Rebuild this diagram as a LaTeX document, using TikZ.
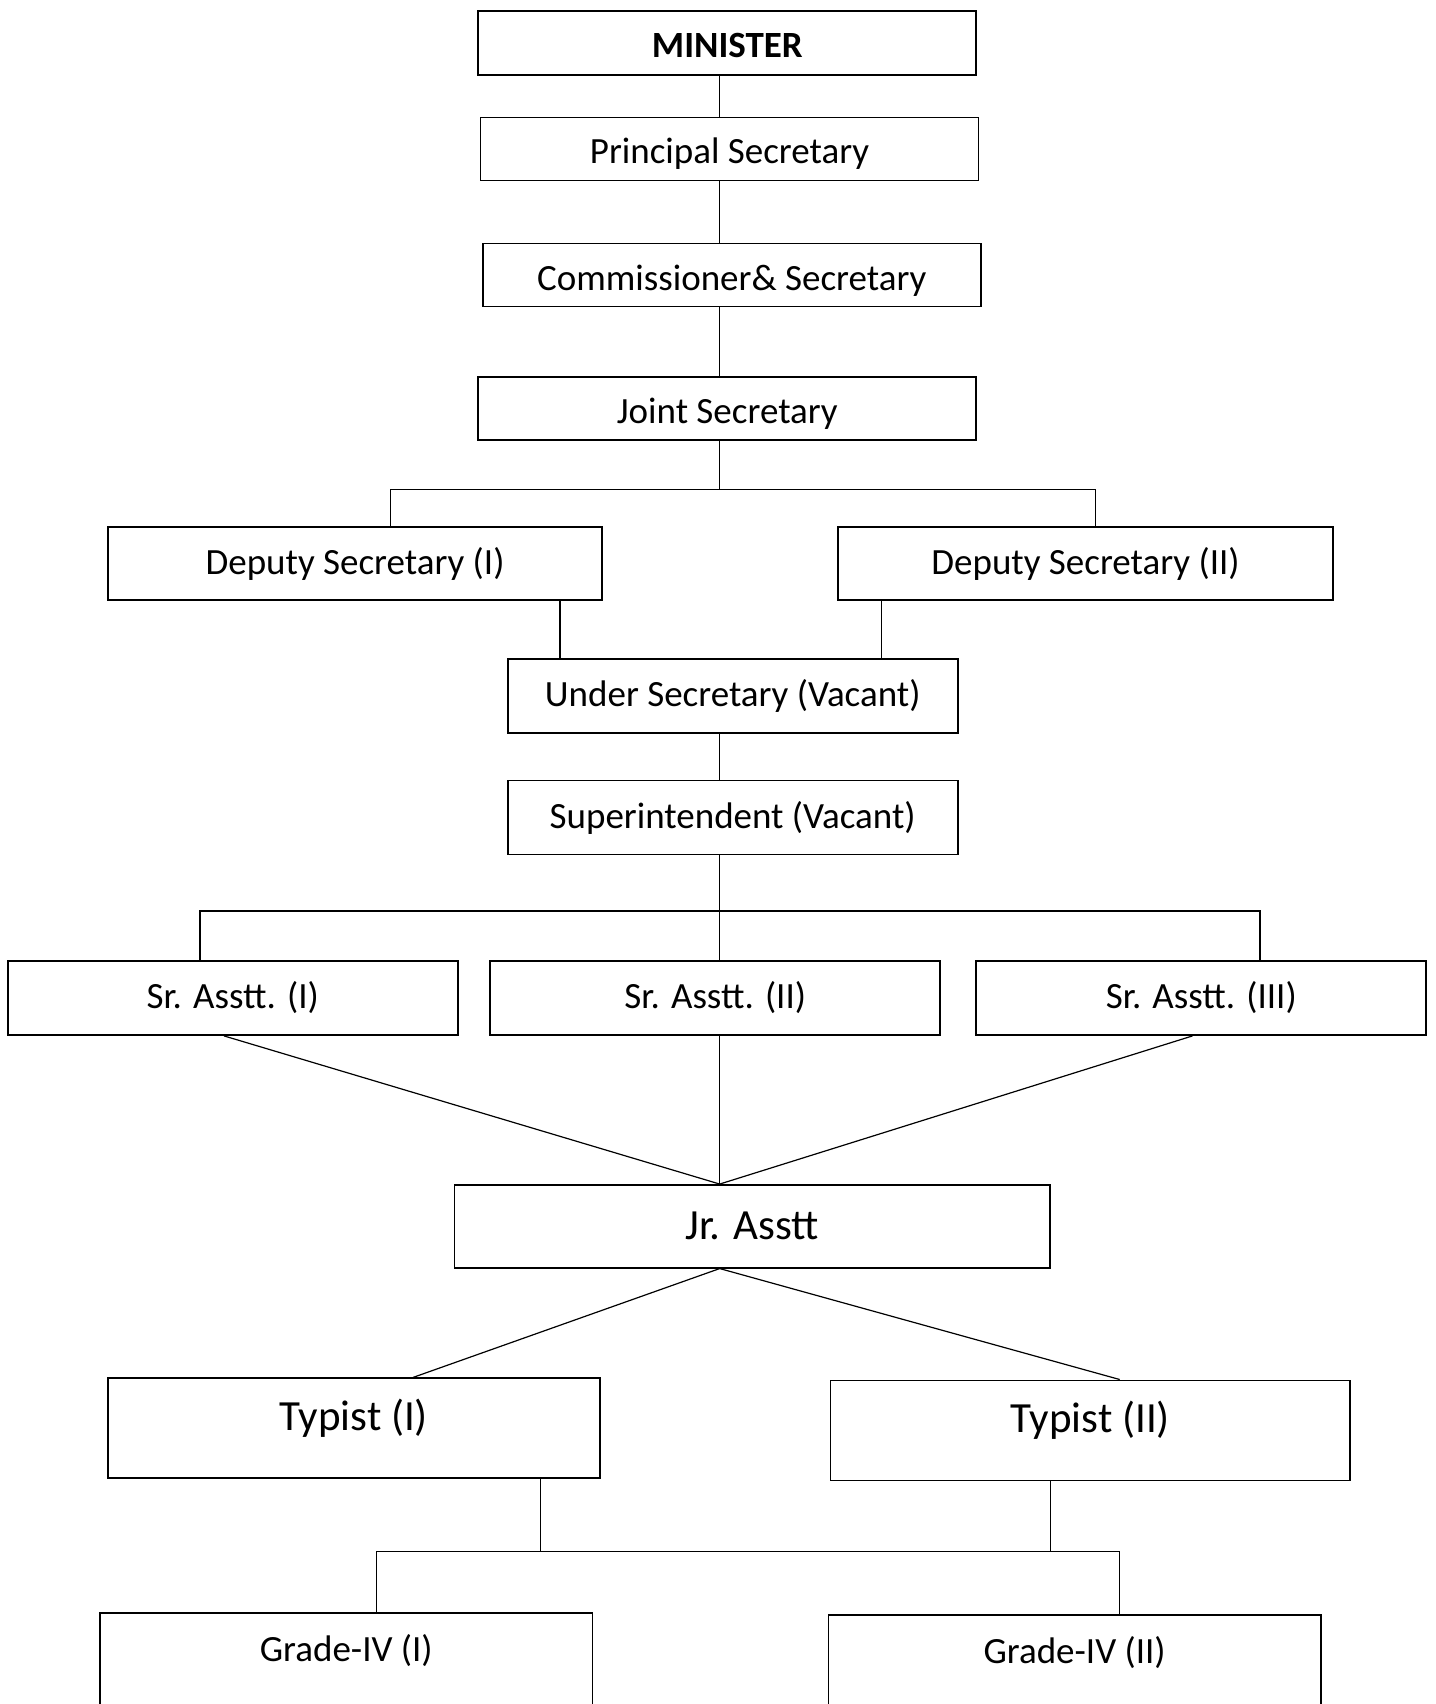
\documentclass[tikz,border=0pt]{standalone}
\usepackage{fontspec}
\setmainfont{Carlito}
\begin{document}
\begin{tikzpicture}[x=1pt,y=-1pt,
  post/.style={draw, line width=1.8pt, inner sep=0pt, align=center,
    font=\fontsize{37}{40}\selectfont},
  toppost/.style={post, minimum width=498pt, minimum height=63pt,
    text height=40pt, text depth=10pt},
  bigpost/.style={post, anchor=north, text height=52pt, text depth=48pt,
    font=\fontsize{43}{46}\selectfont},
  lowpost/.style={post, anchor=north, text height=48pt, text depth=150pt},
  link/.style={line width=1.2pt}]
% page
\path[use as bounding box, fill=white] (0,0) rectangle (1435,1704);
\clip (0,0) rectangle (1435,1704);

% column and bus positions used by the connectors
\coordinate (trunk) at (719.7,0);
\coordinate (c390) at (390.3,0);
\coordinate (c1096) at (1095.8,0);
\coordinate (c560) at (559.9,0);
\coordinate (c882) at (881.6,0);
\coordinate (c200) at (200,0);
\coordinate (c1260) at (1260,0);
\coordinate (c224) at (224,0);
\coordinate (c1192) at (1192.5,0);
\coordinate (c413) at (413.1,0);
\coordinate (c1120) at (1119.7,0);
\coordinate (c540) at (540.3,0);
\coordinate (c1050) at (1050.1,0);
\coordinate (c376) at (376.1,0);
\coordinate (bus1) at (0,489.2);
\coordinate (bus2) at (0,911);
\coordinate (bus3) at (0,1551.3);

% posts
\node[toppost, minimum height=64pt] (minister) at (727.3,43) {\bfseries MINISTER};
\node[toppost] (principal) at (729.5,149) {Principal Secretary};
\node[toppost] (commissioner) at (731.7,275) {Commissioner\& Secretary};
\node[toppost] (joint) at (727.3,408.8) {Joint Secretary};
\node[post, minimum width=494.7pt, minimum height=73pt] (dsi) at (355,563.7) {Deputy Secretary (I)};
\node[post, minimum width=494.6pt, minimum height=73pt] (dsii) at (1085.5,563.7) {Deputy Secretary (II)};
\node[post, minimum width=450pt, minimum height=74pt] (under) at (732.7,695.8) {Under Secretary (Vacant)};
\node[post, minimum width=450pt, minimum height=74pt] (super) at (732.7,817.5) {Superintendent (Vacant)};
\node[post, minimum width=450pt, minimum height=74pt] (sri) at (232.7,998) {Sr. Asstt. (I)};
\node[post, minimum width=450pt, minimum height=74pt] (srii) at (715.3,998) {Sr. Asstt. (II)};
\node[post, minimum width=450pt, minimum height=74pt] (sriii) at (1201.3,998) {Sr. Asstt. (III)};
\node[post, minimum width=595.7pt, minimum height=82.7pt, font=\fontsize{43}{46}\selectfont] (jr) at (752.3,1226.3) {Jr. Asstt};
\node[bigpost, minimum width=492.5pt] (typi) at (353.9,1377.4) {Typist (I)};
\node[bigpost, minimum width=519.7pt] (typii) at (1090.4,1379.5) {Typist (II)};
\node[lowpost, minimum width=492.5pt] (gri) at (346.3,1612.2) {Grade-IV (I)};
\node[lowpost, minimum width=492.4pt] (grii) at (1074.6,1614.4) {Grade-IV (II)};

% vertical chain at the top
\draw[link] (minister.south -| trunk) -- (principal.north -| trunk);
\draw[link] (principal.south -| trunk) -- (commissioner.north -| trunk);
\draw[link] (commissioner.south -| trunk) -- (joint.north -| trunk);

% joint secretary to both deputies
\draw[link] (joint.south -| trunk) -- (bus1 -| trunk);
\draw[link] (dsi.north -| c390) |- (bus1 -| c1096) -- (dsii.north -| c1096);

% deputies to under secretary
\draw[link] (dsi.south -| c560) -- (under.north -| c560);
\draw[link] (dsii.south -| c882) -- (under.north -| c882);
\draw[link] (under.south -| trunk) -- (super.north -| trunk);

% superintendent to senior assistants
\draw[link] (super.south -| trunk) -- (srii.north -| trunk);
\draw[link] (sri.north -| c200) |- (bus2 -| c1260) -- (sriii.north -| c1260);

% senior assistants to junior assistant
\draw[link] (sri.south -| c224) -- (jr.north -| trunk);
\draw[link] (srii.south -| trunk) -- (jr.north -| trunk);
\draw[link] (sriii.south -| c1192) -- (jr.north -| trunk);

% junior assistant to typists
\draw[link] (jr.south -| trunk) -- (typi.north -| c413);
\draw[link] (jr.south -| trunk) -- (typii.north -| c1120);

% typists to grade-IV
\draw[link] (typi.south -| c540) -- (bus3 -| c540);
\draw[link] (typii.south -| c1050) -- (bus3 -| c1050);
\draw[link] (gri.north -| c376) |- (bus3 -| c1120) -- (grii.north -| c1120);
\end{tikzpicture}
\end{document}
